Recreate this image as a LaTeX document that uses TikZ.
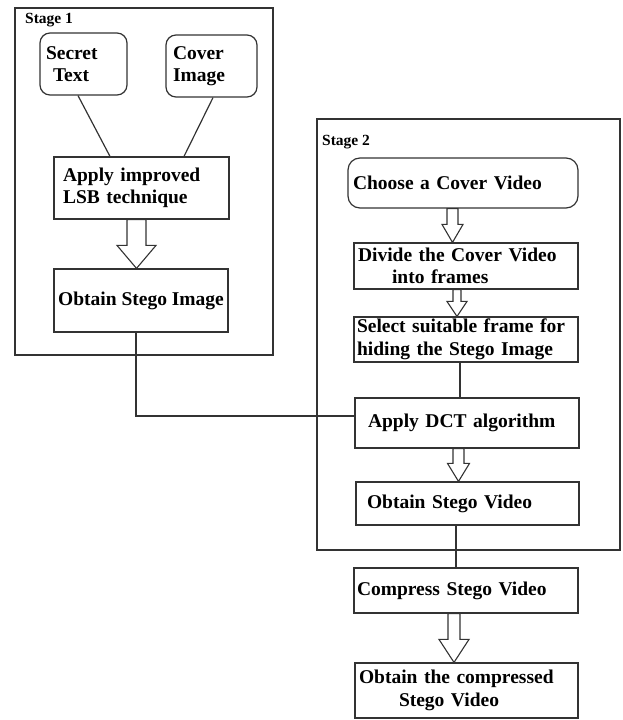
\documentclass[tikz,border=0pt]{standalone}
\usepackage{fontspec}
\setmainfont{Liberation Serif}
\usetikzlibrary{calc}

\tikzset{
  blk/.style={draw=black!80, line width=1.2pt, align=left, inner ysep=0pt,
    font=\bfseries\fontsize{19.5}{22.5}\selectfont},
  stagebox/.style={draw=black!80, line width=1.4pt, inner sep=0pt},
  stagelabel/.style={anchor=west, inner sep=0pt, font=\bfseries\fontsize{15.5}{18}\selectfont},
  link/.style={draw=black!80, line width=1.2pt},
  hollow/.style={draw=black!80, line width=1.1pt, fill=white, line join=miter}
}

% wide outlined arrow: from, to, xshift, shaft half width, head half width, head length
\newcommand{\hollowarrow}[6]{%
  \draw[hollow] let \p1=([xshift=#3]#1), \p2=([xshift=#3]#2) in
    (\x1-#4pt,\y1) -- (\x1+#4pt,\y1) -- (\x1+#4pt,\y2+#6pt) -- (\x1+#5pt,\y2+#6pt)
    -- (\x1,\y2) -- (\x1-#5pt,\y2+#6pt) -- (\x1-#4pt,\y2+#6pt) -- cycle;}

\begin{document}
\begin{tikzpicture}[x=1pt, y=-1pt]
\useasboundingbox (0,0) rectangle (622,720);

% the two stages
\node[stagebox, minimum width=258, minimum height=347] (stageone) at (144,181.5) {};
\node[stagelabel] (stageonelbl) at (25,20) {Stage 1};
\node[stagebox, minimum width=303, minimum height=431] (stagetwo) at (468.5,334.5) {};
\node[stagelabel] (stagetwolbl) at (322,142) {Stage 2};

% stage 1
\node[blk, rounded corners=10, inner xsep=6, text width=75, minimum height=62] (secret) at (83.5,64) {Secret\\\hspace{7pt}Text};
\node[blk, rounded corners=10, inner xsep=7, text width=77, minimum height=62] (cover) at (211.5,66) {Cover\\Image};
\node[blk, inner xsep=9, text width=157, minimum height=62] (lsb) at (141.5,188) {Apply improved\\LSB technique};
\node[blk, inner xsep=0, minimum width=174, minimum height=63] (stegoimg) at (141,300.5) {Obtain Stego Image};

% stage 2
\node[blk, rounded corners=12, inner xsep=5, text width=220, minimum height=50] (choose) at (463,183) {Choose a Cover Video};
\node[blk, inner xsep=4, text width=216, minimum height=46] (divide) at (466,266) {Divide the Cover Video\\\hspace{34pt}into frames};
\node[blk, inner xsep=3, text width=218, minimum height=45] (select) at (466,339.5) {Select suitable frame for\\hiding the Stego Image};
\node[blk, inner xsep=13, text width=198, minimum height=50] (dct) at (467,423) {Apply DCT algorithm};
\node[blk, inner xsep=11, text width=201, minimum height=43] (stegovid) at (467.5,503.5) {Obtain Stego Video};

% after stage 2
\node[blk, inner xsep=3, text width=218, minimum height=45] (compress) at (466,590.5) {Compress Stego Video};
\node[blk, inner xsep=4, text width=215, minimum height=55] (final) at (466.5,690.5) {Obtain the compressed\\\hspace{40pt}Stego Video};

% plain connectors
\draw[link] ([xshift=-5.5]secret.south) -- ([xshift=-31.5]lsb.north);
\draw[link] ([xshift=1.5]cover.south) -- ([xshift=42.5]lsb.north);
\draw[link] ([xshift=-5]stegoimg.south) |- ([yshift=7]dct.west);
\draw[link] ([xshift=-6]select.south) -- ([xshift=-6]select.south |- dct.north);
\draw[link] ([xshift=-11.5]stegovid.south) -- ([xshift=-11.5]stegovid.south |- compress.north);

% wide arrows
\hollowarrow{lsb.south}{stegoimg.north}{-5}{9.5}{19.5}{23}
\hollowarrow{choose.south}{divide.north}{-10.5}{5.5}{10.5}{18}
\hollowarrow{divide.south}{select.north}{-9}{4}{10}{15}
\hollowarrow{dct.south}{stegovid.north}{-8.5}{5.5}{11}{18}
\hollowarrow{compress.south}{final.north}{-12}{6}{15}{23}
\end{tikzpicture}
\end{document}
